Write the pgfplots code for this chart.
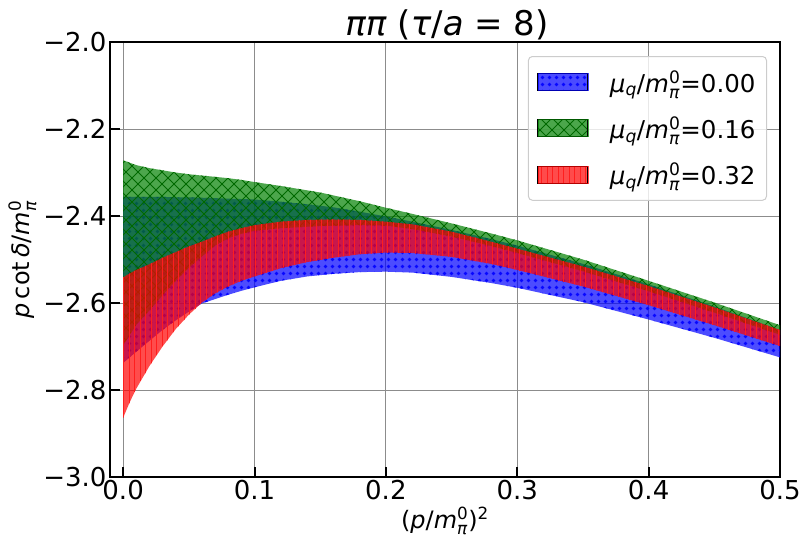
\documentclass[border=0pt]{standalone}
\usepackage{fontspec}
\setmainfont{DejaVu Sans}
\usepackage{amsmath}
\usepackage{pgfplots}
\pgfplotsset{compat=1.18}
\usepackage{pgfplotstable}
\usepgfplotslibrary{fillbetween}
\usetikzlibrary{patterns}

\pgfdeclarepatternformonly{mydots}{\pgfpoint{-1pt}{-1pt}}{\pgfpoint{8pt}{8pt}}{\pgfpoint{7pt}{7pt}}{%
  \pgfpathcircle{\pgfpoint{3.5pt}{3.5pt}}{1.8pt}\pgfusepath{fill}}
\pgfdeclarepatternformonly{myx}{\pgfpoint{-1pt}{-1pt}}{\pgfpoint{13pt}{13pt}}{\pgfpoint{12pt}{12pt}}{%
  \pgfsetlinewidth{1pt}%
  \pgfpathmoveto{\pgfpoint{0pt}{0pt}}\pgfpathlineto{\pgfpoint{12pt}{12pt}}%
  \pgfpathmoveto{\pgfpoint{0pt}{12pt}}\pgfpathlineto{\pgfpoint{12pt}{0pt}}%
  \pgfusepath{stroke}}
\pgfdeclarepatternformonly{myv}{\pgfpoint{-2pt}{-1pt}}{\pgfpoint{7.5pt}{6.5pt}}{\pgfpoint{5.5pt}{5.5pt}}{%
  \pgfsetlinewidth{0.9pt}%
  \pgfpathmoveto{\pgfpoint{2.75pt}{-1pt}}\pgfpathlineto{\pgfpoint{2.75pt}{6.5pt}}%
  \pgfusepath{stroke}}

\definecolor{mplgreen}{RGB}{0,128,0}
\definecolor{hatchgreen}{RGB}{0,105,0}
\definecolor{hatchred}{RGB}{255,30,30}
\newcommand{\mi}[1]{\text{\itshape #1}}
\newcommand{\mpi}{\textit{m}$^{\text{0}}_{\mi{π}}$}

% mu_q/m_pi^0 = 0.00
\pgfplotstableread{
x     up      lo
0     -2.356  -2.738
0.01  -2.356  -2.712
0.02  -2.356  -2.687
0.03  -2.356  -2.662
0.04  -2.357  -2.640
0.05  -2.357  -2.620
0.06  -2.358  -2.601
0.07  -2.359  -2.591
0.08  -2.360  -2.581
0.09  -2.361  -2.572
0.10  -2.362  -2.564
0.12  -2.367  -2.549
0.14  -2.373  -2.539
0.16  -2.380  -2.533
0.18  -2.390  -2.529
0.20  -2.401  -2.528
0.22  -2.413  -2.530
0.25  -2.432  -2.540
0.28  -2.453  -2.554
0.30  -2.468  -2.565
0.35  -2.510  -2.598
0.40  -2.557  -2.638
0.45  -2.608  -2.680
0.50  -2.662  -2.725
}\tabA
% mu_q/m_pi^0 = 0.16
\pgfplotstableread{
x     up      lo
0     -2.272  -2.697
0.01  -2.283  -2.650
0.02  -2.290  -2.617
0.03  -2.295  -2.582
0.04  -2.300  -2.549
0.05  -2.304  -2.519
0.06  -2.307  -2.493
0.07  -2.310  -2.468
0.08  -2.313  -2.451
0.09  -2.317  -2.441
0.10  -2.322  -2.434
0.12  -2.331  -2.428
0.15  -2.346  -2.423
0.18  -2.366  -2.421
0.20  -2.381  -2.422
0.22  -2.395  -2.430
0.25  -2.417  -2.447
0.28  -2.440  -2.469
0.30  -2.456  -2.485
0.35  -2.500  -2.527
0.40  -2.549  -2.573
0.45  -2.599  -2.622
0.50  -2.651  -2.673
}\tabB
% mu_q/m_pi^0 = 0.32
\pgfplotstableread{
x     up      lo
0     -2.541  -2.864
0.005 -2.532  -2.828
0.01  -2.524  -2.797
0.02  -2.511  -2.745
0.03  -2.496  -2.700
0.04  -2.483  -2.660
0.05  -2.470  -2.627
0.06  -2.459  -2.599
0.07  -2.447  -2.578
0.08  -2.436  -2.562
0.09  -2.428  -2.549
0.10  -2.421  -2.539
0.12  -2.413  -2.520
0.14  -2.409  -2.506
0.16  -2.408  -2.496
0.18  -2.409  -2.488
0.20  -2.413  -2.484
0.22  -2.419  -2.485
0.25  -2.436  -2.494
0.28  -2.459  -2.510
0.30  -2.475  -2.524
0.35  -2.516  -2.562
0.40  -2.561  -2.605
0.45  -2.610  -2.651
0.50  -2.662  -2.699
}\tabC

\pgfplotsset{
  legA/.style={legend image code/.code={
    \fill[sharp corners, blue, fill opacity=0.7] (0pt,-8.5pt) rectangle (50pt,8.5pt);
    \fill[sharp corners, pattern=mydots, pattern color=blue, fill opacity=0.9] (0pt,-8.5pt) rectangle (50pt,8.5pt);
    \draw[sharp corners, blue, draw opacity=0.7, line width=0.8pt] (0pt,-8.5pt) rectangle (50pt,8.5pt);
    \path[draw=none, fill=none] (0pt,0pt) -- (70pt,0pt);}},
  legB/.style={legend image code/.code={
    \fill[sharp corners, mplgreen, fill opacity=0.7] (0pt,-8.5pt) rectangle (50pt,8.5pt);
    \fill[sharp corners, pattern=myx, pattern color=hatchgreen, fill opacity=0.8] (0pt,-8.5pt) rectangle (50pt,8.5pt);
    \draw[sharp corners, mplgreen, draw opacity=0.7, line width=0.8pt] (0pt,-8.5pt) rectangle (50pt,8.5pt);
    \path[draw=none, fill=none] (0pt,0pt) -- (70pt,0pt);}},
  legC/.style={legend image code/.code={
    \fill[sharp corners, red, fill opacity=0.7] (0pt,-8.5pt) rectangle (50pt,8.5pt);
    \fill[sharp corners, pattern=myv, pattern color=hatchred] (0pt,-8.5pt) rectangle (50pt,8.5pt);
    \draw[sharp corners, red, draw opacity=0.7, line width=0.8pt] (0pt,-8.5pt) rectangle (50pt,8.5pt);
    \path[draw=none, fill=none] (0pt,0pt) -- (70pt,0pt);}},
}

\begin{document}
\begin{tikzpicture}
\begin{axis}[
  name=ax,
  scale only axis,
  width=670pt, height=435pt,
  xmin=-0.01, xmax=0.5,
  ymin=-3, ymax=-2,
  xtick={0,0.1,0.2,0.3,0.4,0.5},
  xticklabels={0.0,0.1,0.2,0.3,0.4,0.5},
  ytick={-3,-2.8,-2.6,-2.4,-2.2,-2},
  yticklabels={−3.0,−2.8,−2.6,−2.4,−2.2,−2.0},
  ticklabel style={font=\fontsize{26}{30}\selectfont},
  tick align=inside,
  tick pos=left,
  major tick length=10pt,
  tick style={line width=2pt, black},
  axis line style={line width=2.5pt},
  grid=major,
  grid style={black!45, line width=1pt},
  title={\textit{ππ} (\textit{τ}/\textit{a} = 8)},
  title style={font=\fontsize{34}{40}\selectfont, yshift=-8pt, xshift=2pt},
  xlabel={(\textit{p}/\mpi)$^{\text{2}}$},
  ylabel={\textit{p}\,cot\,\textit{δ}/\mpi},
  label style={font=\fontsize{24}{28}\selectfont},
  legend style={at={(1,1)}, anchor=north east, xshift=-13pt, yshift=-14pt,
    font=\fontsize{24.5}{28}\selectfont, draw=black!20, line width=1pt,
    rounded corners=4pt, fill=white, fill opacity=0.8, text opacity=1, draw opacity=1,
    inner xsep=9pt, inner ysep=12pt, row sep=19pt},
  legend cell align=left,
]
\addplot[name path=Au, draw=none, forget plot] table[x=x, y=up] {\tabA};
\addplot[name path=Al, draw=none, forget plot] table[x=x, y=lo] {\tabA};
\addplot[name path=Bu, draw=none, forget plot] table[x=x, y=up] {\tabB};
\addplot[name path=Bl, draw=none, forget plot] table[x=x, y=lo] {\tabB};
\addplot[name path=Cu, draw=none, forget plot] table[x=x, y=up] {\tabC};
\addplot[name path=Cl, draw=none, forget plot] table[x=x, y=lo] {\tabC};

\addplot[fill=blue, fill opacity=0.7, draw=none, forget plot] fill between[of=Au and Al];
\addplot[pattern=mydots, pattern color=blue, fill opacity=0.9, draw=none, forget plot] fill between[of=Au and Al];
\addplot[fill=mplgreen, fill opacity=0.7, draw=none, forget plot] fill between[of=Bu and Bl];
\addplot[pattern=myx, pattern color=hatchgreen, fill opacity=0.8, draw=none, forget plot] fill between[of=Bu and Bl];
\addplot[fill=red, fill opacity=0.7, draw=none, forget plot] fill between[of=Cu and Cl];
\addplot[pattern=myv, pattern color=hatchred, draw=none, forget plot] fill between[of=Cu and Cl];

\addlegendimage{legA}
\addlegendentry{\textit{μ}$_{\mi{q}}$/\mpi=0.00}
\addlegendimage{legB}
\addlegendentry{\textit{μ}$_{\mi{q}}$/\mpi=0.16}
\addlegendimage{legC}
\addlegendentry{\textit{μ}$_{\mi{q}}$/\mpi=0.32}
\end{axis}
\pgfresetboundingbox
\path (ax.south west) ++(-110pt,-73pt) rectangle ++(806pt,550pt);
\end{tikzpicture}
\end{document}
